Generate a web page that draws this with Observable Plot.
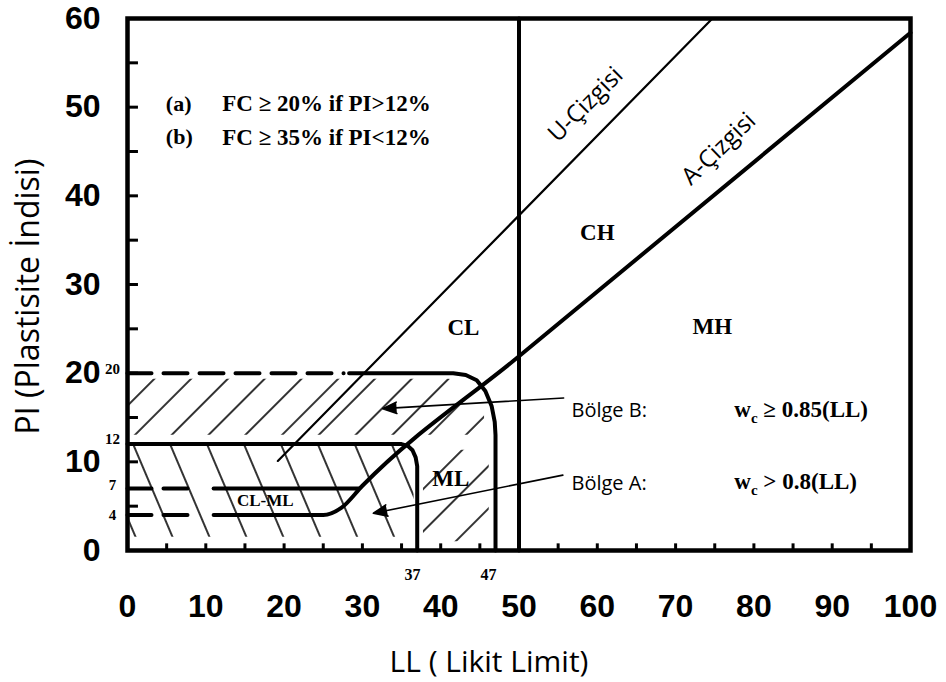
<!DOCTYPE html>
<html><head><meta charset="utf-8">
<script src="https://cdn.jsdelivr.net/npm/d3@7"></script>
<script src="https://cdn.jsdelivr.net/npm/@observablehq/plot@0.6"></script>
<style>body{margin:0;background:#fff;}</style>
</head><body><div id="chart"></div>
<script>
// ---- tick values ----
const xTicks = [0,10,20,30,40,50,60,70,80,90,100];
const yTicks = [0,10,20,30,40,50,60];
const xMinor = [5,10,15,20,25,30,35,40,45,50,55,60,65,70,75,80,85,90,95];
const yMinor = [5,10,15,20,25,30,35,40,45,50,55];

// ---- chart lines (LL, PI) ----
const uLL = [19.2, 74.7];
const uPI = [10.1, 60];
const aLL = [11, 25, 27.3, 30, 50, 100];
const aPI = [4, 4, 4.8, 7.3, 21.9, 58.4];
const pi4DashLL = [0, 8.4];
const pi7DashLL = [0, 8.4];
const pi7SolidLL = [11, 29.6];
const pi20DashLL = [0, 27.6];
const zoneBLL = [28.3, 41.6, 43.2, 44.6, 45.7, 46.5, 46.9, 47, 47];
const zoneBPI = [20, 20, 19.8, 19.2, 18.0, 16.3, 14.5, 13, 0];
const zoneALL = [0, 35, 35.8, 36.4, 36.8, 37, 37];
const zoneAPI = [12, 12, 11.8, 11.3, 10.5, 9.5, 0];
const divLL = [50, 50];
const divPI = [0, 60];

// ---- hatched areas ----
const hatchBupLL = [0, 41, 43.6, 45.6];
const hatchBupLo = [13, 13, 13, 13];
const hatchBupHi = [19.3, 19.3, 18.2, 15.5];
const hatchBlowLL = [37.8, 46.2];
const hatchBlowLo = [1, 1];
const hatchBlowHi = [11.3, 11.3];
const hatchALL = [0.3, 34.6, 35.9, 36.6];
const hatchALo = [1.5, 1.5, 1.5, 1.5];
const hatchAHi = [12, 12, 11.2, 9.5];

// ---- labels ----
const zoneNames = ["CL", "CH", "MH", "ML"];
const zoneNameLL = [42.9, 60.0, 74.7, 41.3];
const zoneNamePI = [25.1, 35.9, 25.2, 8.1];
const critTags = ["(a)", "(b)"];
const critTexts = ["FC ≥ 20% if PI>12%", "FC ≥ 35% if PI<12%"];
const critPI = [50.4, 46.6];
const regionNames = ["Bölge B:", "Bölge A:"];
const regionPI = [15.8, 7.6];
const wcTexts = ["wc ≥ 0.85(LL)", "wc > 0.8(LL)"];
const wcPI = [15.9, 7.8];
const arrowFromLL = [55.7, 55.6];
const arrowFromPI = [17.2, 8.5];
const arrowToLL = [32.6, 31.4];
const arrowToPI = [16.0, 4.2];
const smallYLabels = ["20", "12", "7", "4"];
const smallYValues = [20.4, 12.5, 7.4, 4.0];
const smallXLabels = ["37", "47"];
const smallXValues = [36.4, 46.1];

const pts = (xs, ys) => xs.map((x, i) => ({x, y: ys[i]}));
const serif = "Liberation Serif, Times New Roman, serif";
const sans = "Open Sans, Noto Sans, sans-serif";

const chart = Plot.plot({
  width: 946, height: 682,
  marginTop: 18, marginBottom: 132, marginLeft: 127, marginRight: 36,
  style: {fontFamily: "Liberation Sans, Arial, sans-serif", fontSize: "32px", fontWeight: "bold", background: "white", color: "black"},
  x: {domain: [0, 100], ticks: xTicks, tickSize: 0, tickPadding: 44, label: null, tickFormat: d => d},
  y: {domain: [0, 60], ticks: yTicks, tickSize: 0, tickPadding: 27, label: null, tickFormat: d => d},
  marks: [
    Plot.areaY(hatchBupLL.map((x,i)=>({x, y1: hatchBupLo[i], y2: hatchBupHi[i]})), {x: "x", y1: "y1", y2: "y2", fill: "url(#hatchB)", curve: "monotone-x"}),
    Plot.areaY(hatchBlowLL.map((x,i)=>({x, y1: hatchBlowLo[i], y2: hatchBlowHi[i]})), {x: "x", y1: "y1", y2: "y2", fill: "url(#hatchB2)"}),
    Plot.areaY(hatchALL.map((x,i)=>({x, y1: hatchALo[i], y2: hatchAHi[i]})), {x: "x", y1: "y1", y2: "y2", fill: "url(#hatchA)", curve: "monotone-x"}),
    // minor ticks
    Plot.ruleY(yMinor, {y: d => d, x1: 0, x2: 1.4, strokeWidth: 3}),
    Plot.ruleX(xMinor, {x: d => d, y1: 0, y2: 0.75, strokeWidth: 3}),
    // U-line
    Plot.line(pts(uLL, uPI), {x: "x", y: "y", strokeWidth: 2.2}),
    // A-line
    Plot.line(pts(aLL, aPI), {x: "x", y: "y", strokeWidth: 4, curve: "monotone-x"}),
    Plot.line(pts(pi4DashLL, [4, 4]), {x: "x", y: "y", strokeWidth: 4, strokeDasharray: "24,12"}),
    Plot.line(pts(pi7DashLL, [7, 7]), {x: "x", y: "y", strokeWidth: 4, strokeDasharray: "24,12"}),
    Plot.line(pts(pi7SolidLL, [7, 7]), {x: "x", y: "y", strokeWidth: 4}),
    Plot.line(pts(pi20DashLL, [20, 20]), {x: "x", y: "y", strokeWidth: 4, strokeDasharray: "24,12"}),
    Plot.line(pts(zoneBLL, zoneBPI), {x: "x", y: "y", strokeWidth: 4, strokeLinejoin: "round"}),
    Plot.line(pts(zoneALL, zoneAPI), {x: "x", y: "y", strokeWidth: 4, strokeLinejoin: "round"}),
    Plot.line(pts(divLL, divPI), {x: "x", y: "y", strokeWidth: 4}),
    // arrows
    Plot.arrow(arrowFromLL.map((x,i)=>({x1: x, y1: arrowFromPI[i], x2: arrowToLL[i], y2: arrowToPI[i]})),
      {x1: "x1", y1: "y1", x2: "x2", y2: "y2", stroke: "black", strokeWidth: 1.6, headLength: 14, headAngle: 45, fill: "black"}),
    // zone names
    Plot.text(zoneNames.map((t,i)=>({t, x: zoneNameLL[i], y: zoneNamePI[i]})), {x: "x", y: "y", text: "t", fontFamily: serif, fontSize: 23, fontWeight: "bold"}),
    Plot.text([{t: "CL-ML", x: 17.6, y: 5.6}], {x: "x", y: "y", text: "t", fontFamily: serif, fontSize: 17, fontWeight: "bold"}),
    // criteria
    Plot.text(critTags.map((t,i)=>({t, y: critPI[i]})), {x: 4.9, y: "y", text: "t", textAnchor: "start", fontFamily: serif, fontSize: 22, fontWeight: "bold"}),
    Plot.text(critTexts.map((t,i)=>({t, y: critPI[i]})), {x: 12.1, y: "y", text: "t", textAnchor: "start", fontFamily: serif, fontSize: 23, fontWeight: "bold"}),
    // regions
    Plot.text(regionNames.map((t,i)=>({t, y: regionPI[i]})), {x: 56.7, y: "y", text: "t", textAnchor: "start", fontFamily: sans, fontSize: 20, fontWeight: "normal"}),
    Plot.text(wcTexts.map((t,i)=>({t, y: wcPI[i]})), {x: 77.5, y: "y", text: "t", textAnchor: "start", fontFamily: serif, fontSize: 23, fontWeight: "bold", className: "wc"}),
    // line names
    Plot.text([{t: "U-Çizgisi", x: 58.5, y: 50.3}], {x: "x", y: "y", text: "t", rotate: -45, fontFamily: sans, fontSize: 24, fontWeight: "normal"}),
    Plot.text([{t: "A-Çizgisi", x: 75.5, y: 45.3}], {x: "x", y: "y", text: "t", rotate: -44, fontFamily: sans, fontSize: 24, fontWeight: "normal"}),
    // small axis labels
    Plot.text(smallYLabels.map((t,i)=>({t, y: smallYValues[i]})), {x: 0, y: "y", text: "t", dx: -15, fontFamily: serif, fontSize: 15, fontWeight: "bold"}),
    Plot.text(smallXLabels.map((t,i)=>({t, x: smallXValues[i]})), {x: "x", y: 0, text: "t", dy: 24, fontFamily: serif, fontSize: 16, fontWeight: "bold"}),
    // axis titles
    Plot.text(["PI (Plastisite İndisi)"], {frameAnchor: "left", text: d => d, dx: -99, dy: 12, rotate: -90, textAnchor: "middle", lineAnchor: "middle", fontFamily: sans, fontSize: 32, fontWeight: "normal"}),
    Plot.text(["LL ( Likit Limit)"], {frameAnchor: "bottom", text: d => d, dx: -30, dy: 112, textAnchor: "middle", lineAnchor: "middle", fontFamily: sans, fontSize: 30, fontWeight: "normal"}),
    Plot.frame({strokeWidth: 4.5})
  ]
});

const svg = d3.select(chart);
const defs = svg.insert("defs", ":first-child");
function pattern(id, angle, spacing) {
  const p = defs.append("pattern").attr("id", id).attr("patternUnits", "userSpaceOnUse")
    .attr("width", spacing).attr("height", spacing)
    .attr("patternTransform", `rotate(${angle})`);
  p.append("line").attr("x1", spacing/2).attr("x2", spacing/2).attr("y1", 0).attr("y2", spacing)
    .attr("stroke", "black").attr("stroke-width", 1.6);
}
pattern("hatchB", 45, 26);
pattern("hatchB2", 45, 30);
pattern("hatchA", -23, 34);

// subscript c in w_c
svg.selectAll(".wc text").each(function() {
  const el = d3.select(this);
  const s = el.text();
  if (!s.startsWith("wc")) return;
  el.text(null);
  el.append("tspan").text("w");
  el.append("tspan").attr("dy", 6).attr("font-size", 15).text("c");
  el.append("tspan").attr("dy", -6).text(s.slice(2));
});

document.getElementById("chart").appendChild(chart);
</script>
</body></html>
